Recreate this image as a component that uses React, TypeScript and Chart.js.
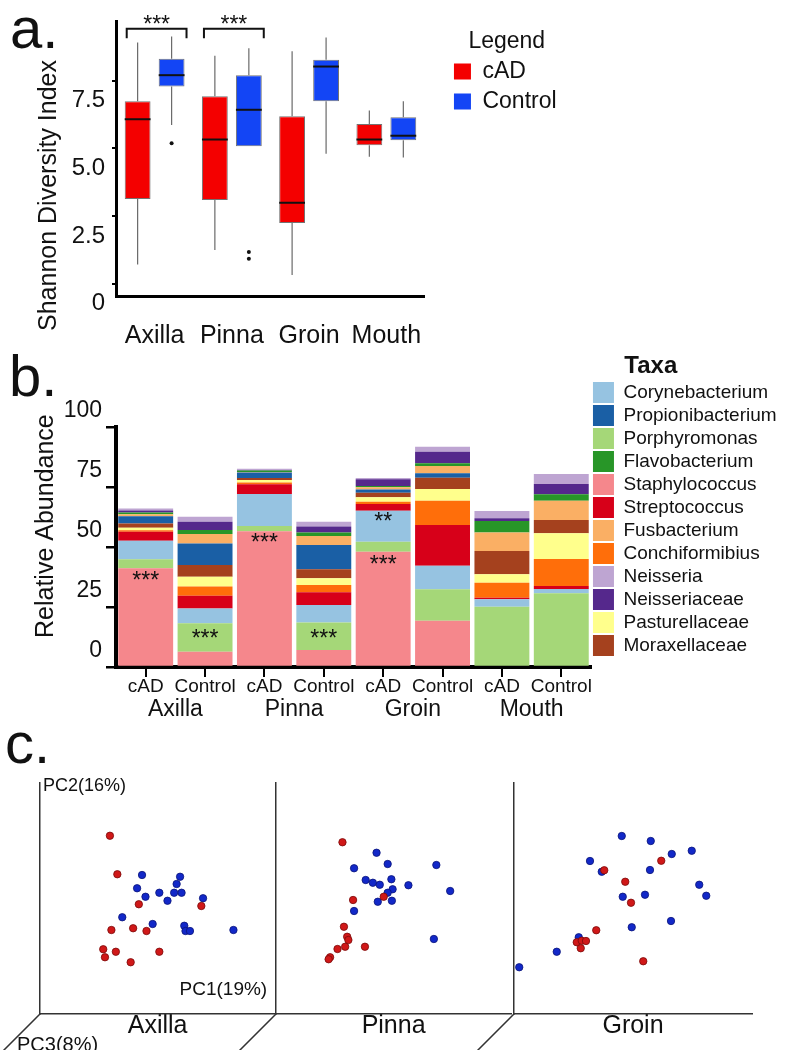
import React, { useEffect, useRef } from 'react';
import { Chart, registerables } from 'chart.js';

Chart.register(...registerables);

const FONT = '"Liberation Sans", Arial, Helvetica, sans-serif';
Chart.defaults.font.family = FONT;
Chart.defaults.color = '#111';

// ---------------- Panel a: Shannon diversity (box plots) ----------------
const SITES = ['Axilla', 'Pinna', 'Groin', 'Mouth'];
const GROUPS = ['cAD', 'Control'];
const GROUP_COLORS = ['#f40000', '#1345f5'];

const CAD_MIN = [0.71, 1.24, 0.32, 4.69];
const CAD_Q1 = [3.13, 3.09, 2.24, 5.12];
const CAD_MEDIAN = [6.08, 5.33, 2.99, 5.33];
const CAD_Q3 = [6.75, 6.93, 6.19, 5.9];
const CAD_MAX = [8.92, 8.43, 8.6, 6.4];
const CAD_OUTLIERS: number[][] = [[], [], [], []];

const CTRL_MIN = [5.87, 5.08, 4.8, 4.66];
const CTRL_Q1 = [7.29, 5.08, 6.75, 5.3];
const CTRL_MEDIAN = [7.71, 6.43, 8.03, 5.47];
const CTRL_Q3 = [8.32, 7.71, 8.28, 6.15];
const CTRL_MAX = [9.14, 8.71, 9.1, 6.75];
const CTRL_OUTLIERS: number[][] = [[5.19], [1.17, 0.92], [], []];

const SHANNON_TICKS = [0, 2.5, 5, 7.5];
const SHANNON_TICK_LABELS = ['0', '2.5', '5.0', '7.5'];
const SHANNON_SIGNIFICANCE = [
  { site: 'Axilla', label: '***' },
  { site: 'Pinna', label: '***' },
];
const BRACKET_TOP = 9.43;
const BRACKET_LEG = 9.08;
const BRACKET_STARS = 9.78;

// ---------------- Panel b: relative abundance (stacked bars) ----------------
const BAR_GROUPS = ['cAD', 'Control', 'cAD', 'Control', 'cAD', 'Control', 'cAD', 'Control'];
const BAR_SITES = ['Axilla', 'Pinna', 'Groin', 'Mouth'];

const STAPHYLOCOCCUS = [41.1, 6.4, 56.6, 7.1, 48.0, 19.3, 0, 0];
const PORPHYROMONAS = [3.8, 11.8, 2.2, 11.4, 4.2, 13.1, 25.1, 30.7];
const CORYNEBACTERIUM = [7.7, 6.2, 13.3, 7.3, 12.9, 9.8, 3.1, 1.8];
const STREPTOCOCCUS = [3.8, 5.3, 4.0, 5.3, 2.8, 17.0, 0.7, 1.3];
const CONCHIFORMIBIUS = [0.6, 3.8, 0.8, 3.1, 1.0, 10.1, 6.2, 11.2];
const PASTURELLACEAE = [1.0, 4.1, 1.0, 2.8, 1.8, 4.9, 3.5, 10.7];
const MORAXELLACEAE = [1.8, 4.9, 0.8, 3.7, 1.9, 4.7, 9.7, 5.6];
const PROPIONIBACTERIUM = [3.0, 9.0, 2.3, 10.1, 1.4, 1.8, 0, 0];
const FUSBACTERIUM = [0.8, 3.9, 0.3, 3.8, 0.9, 3.0, 7.7, 8.0];
const FLAVOBACTERIUM = [0.8, 1.7, 0.6, 1.4, 0.5, 1.2, 4.8, 2.7];
const NEISSERIACEAE = [0.8, 3.4, 0.2, 2.5, 2.8, 4.8, 1.2, 4.3];
const NEISSERIA = [0.8, 2.1, 0.5, 2.0, 0.6, 2.1, 3.0, 4.1];

// bottom-to-top stacking order
const TAXA_STACK = [
  { label: 'Staphylococcus', color: '#f5878c', data: STAPHYLOCOCCUS },
  { label: 'Porphyromonas', color: '#a5d778', data: PORPHYROMONAS },
  { label: 'Corynebacterium', color: '#96c3e1', data: CORYNEBACTERIUM },
  { label: 'Streptococcus', color: '#d70019', data: STREPTOCOCCUS },
  { label: 'Conchiformibius', color: '#ff6e0a', data: CONCHIFORMIBIUS },
  { label: 'Pasturellaceae', color: '#ffff8c', data: PASTURELLACEAE },
  { label: 'Moraxellaceae', color: '#a5411e', data: MORAXELLACEAE },
  { label: 'Propionibacterium', color: '#1a5fa5', data: PROPIONIBACTERIUM },
  { label: 'Fusbacterium', color: '#faaf64', data: FUSBACTERIUM },
  { label: 'Flavobacterium', color: '#289628', data: FLAVOBACTERIUM },
  { label: 'Neisseriaceae', color: '#55288c', data: NEISSERIACEAE },
  { label: 'Neisseria', color: '#bea5d2', data: NEISSERIA },
];
const LEGEND_ORDER = [
  'Corynebacterium', 'Propionibacterium', 'Porphyromonas', 'Flavobacterium',
  'Staphylococcus', 'Streptococcus', 'Fusbacterium', 'Conchiformibius',
  'Neisseria', 'Neisseriaceae', 'Pasturellaceae', 'Moraxellaceae',
];
const ABUNDANCE_TICKS = [0, 25, 50, 75, 100];
const ABUNDANCE_STARS = [
  { bar: 0, value: 38.3, label: '***' },
  { bar: 1, value: 14.2, label: '***' },
  { bar: 2, value: 54.2, label: '***' },
  { bar: 3, value: 14.2, label: '***' },
  { bar: 4, value: 62.9, label: '**' },
  { bar: 4, value: 45.0, label: '***' },
];

// ---------------- Panel c: PCoA (PC1 vs PC2 scores) ----------------
type Pt = [number, number];
const PC_LABELS = ['PC1(19%)', 'PC2(16%)', 'PC3(8%)'];
const AXILLA_CAD: Pt[] = [[-0.193, 0.251], [-0.163, 0.097], [-0.076, -0.023], [0.177, -0.03], [-0.187, -0.126], [-0.099, -0.119], [-0.045, -0.13], [-0.22, -0.203], [-0.169, -0.213], [-0.213, -0.235], [-0.109, -0.255], [0.007, -0.213]];
const AXILLA_CONTROL: Pt[] = [[-0.063, 0.094], [0.091, 0.087], [0.077, 0.058], [-0.083, 0.041], [-0.049, 0.007], [0.007, 0.023], [0.067, 0.023], [0.097, 0.023], [0.04, -0.009], [0.184, 0.001], [-0.143, -0.075], [-0.02, -0.102], [0.108, -0.109], [0.113, -0.13], [0.131, -0.13], [0.307, -0.126]];
const PINNA_CAD: Pt[] = [[-0.207, 0.225], [-0.164, -0.006], [-0.04, 0.007], [-0.201, -0.113], [-0.188, -0.153], [-0.183, -0.166], [-0.196, -0.193], [-0.116, -0.193], [-0.227, -0.202], [-0.257, -0.235], [-0.263, -0.243]];
const PINNA_CONTROL: Pt[] = [[-0.069, 0.183], [-0.024, 0.138], [0.173, 0.134], [-0.16, 0.121], [-0.113, 0.074], [-0.084, 0.063], [-0.056, 0.055], [-0.009, 0.077], [0.06, 0.053], [-0.004, 0.037], [-0.024, 0.023], [0.229, 0.03], [-0.064, -0.013], [-0.007, -0.009], [-0.16, -0.05], [0.163, -0.162]];
const GROIN_CAD: Pt[] = [[-0.115, 0.113], [0.113, 0.151], [-0.031, 0.067], [-0.008, -0.017], [-0.147, -0.127], [-0.225, -0.175], [-0.205, -0.169], [-0.188, -0.17], [-0.209, -0.199], [0.041, -0.251]];
const GROIN_CONTROL: Pt[] = [[-0.455, -0.275], [-0.305, -0.213], [-0.217, -0.155], [-0.172, 0.15], [-0.125, 0.107], [-0.045, 0.25], [0.071, 0.23], [0.155, 0.178], [0.235, 0.191], [0.068, 0.114], [0.265, 0.055], [0.293, 0.011], [-0.041, 0.007], [0.048, 0.015], [0.152, -0.09], [-0.005, -0.115]];
const PC_X_RANGE = [-0.476, 0.476];
const PC_Y_RANGE = [-0.462, 0.462];

// ---------------- helpers ----------------
function drawStars(ctx: CanvasRenderingContext2D, text: string, x: number, cy: number, size: number) {
  ctx.save();
  ctx.font = `${size}px ${FONT}`;
  ctx.fillStyle = '#111';
  ctx.textAlign = 'center';
  ctx.textBaseline = 'alphabetic';
  ctx.fillText(text, x, cy + size * 0.57);
  ctx.restore();
}

function drawRotatedTitle(ctx: CanvasRenderingContext2D, text: string, x: number, y: number, size: number) {
  ctx.save();
  ctx.translate(x, y);
  ctx.rotate(-Math.PI / 2);
  ctx.font = `${size}px ${FONT}`;
  ctx.fillStyle = '#111';
  ctx.textAlign = 'left';
  ctx.textBaseline = 'middle';
  ctx.fillText(text, 0, 0);
  ctx.restore();
}

const noBorderLegendLabels = (chart: any) =>
  Chart.defaults.plugins.legend.labels.generateLabels(chart).map((l: any) => ({ ...l, lineWidth: 0 }));

// invisible axis used only to reserve a fixed gap in the layout
function spacerAxis(position: string, size: number, display: boolean) {
  return {
    type: 'linear',
    position,
    display,
    grid: { display: false, drawTicks: false },
    ticks: { display: false },
    border: { display: false },
    afterFit: (s: any) => {
      if (position === 'left' || position === 'right') s.width = size;
      else s.height = size;
    },
  };
}

// ---------------- chart configs ----------------
function configA(): any {
  const stats = [
    { min: CAD_MIN, q1: CAD_Q1, med: CAD_MEDIAN, q3: CAD_Q3, max: CAD_MAX, out: CAD_OUTLIERS },
    { min: CTRL_MIN, q1: CTRL_Q1, med: CTRL_MEDIAN, q3: CTRL_Q3, max: CTRL_MAX, out: CTRL_OUTLIERS },
  ];
  const plugin = {
    id: 'boxDetails',
    afterDatasetsDraw(chart: any) {
      const { ctx, chartArea } = chart;
      const y = chart.scales.y;
      ctx.save();
      stats.forEach((s, di) => {
        const meta = chart.getDatasetMeta(di);
        meta.data.forEach((bar: any, i: number) => {
          const x = bar.x;
          const half = bar.width / 2;
          ctx.strokeStyle = '#6a6a6a';
          ctx.lineWidth = 1.2;
          ctx.beginPath();
          ctx.moveTo(x, y.getPixelForValue(s.q3[i]));
          ctx.lineTo(x, y.getPixelForValue(s.max[i]));
          ctx.moveTo(x, y.getPixelForValue(s.q1[i]));
          ctx.lineTo(x, y.getPixelForValue(s.min[i]));
          ctx.stroke();
          const my = y.getPixelForValue(s.med[i]);
          ctx.strokeStyle = '#111';
          ctx.lineWidth = 2;
          ctx.beginPath();
          ctx.moveTo(x - half, my);
          ctx.lineTo(x + half, my);
          ctx.stroke();
          ctx.fillStyle = '#111';
          s.out[i].forEach((v) => {
            ctx.beginPath();
            ctx.arc(x, y.getPixelForValue(v), 2, 0, Math.PI * 2);
            ctx.fill();
          });
        });
      });
      const m0 = chart.getDatasetMeta(0);
      const m1 = chart.getDatasetMeta(1);
      SHANNON_SIGNIFICANCE.forEach((sig) => {
        const i = SITES.indexOf(sig.site);
        const b0: any = m0.data[i];
        const b1: any = m1.data[i];
        const x1 = b0.x - b0.width / 2 + 2;
        const x2 = b1.x + b1.width / 2 + 2;
        const yt = y.getPixelForValue(BRACKET_TOP);
        const yl = y.getPixelForValue(BRACKET_LEG);
        ctx.strokeStyle = '#111';
        ctx.lineWidth = 2;
        ctx.beginPath();
        ctx.moveTo(x1, yl);
        ctx.lineTo(x1, yt);
        ctx.lineTo(x2, yt);
        ctx.lineTo(x2, yl);
        ctx.stroke();
        drawStars(ctx, sig.label, (x1 + x2) / 2, y.getPixelForValue(BRACKET_STARS), 23);
      });
      drawRotatedTitle(ctx, 'Shannon Diversity Index', chartArea.left - 67, chartArea.bottom + 35, 25);
      ctx.restore();
    },
  };
  return {
    type: 'bar',
    data: {
      labels: SITES,
      datasets: GROUPS.map((g, gi) => {
        const q1 = gi === 0 ? CAD_Q1 : CTRL_Q1;
        const q3 = gi === 0 ? CAD_Q3 : CTRL_Q3;
        return {
          label: g,
          data: q1.map((v, i) => [v, q3[i]]),
          xAxisID: 'x',
          yAxisID: 'y',
          backgroundColor: GROUP_COLORS[gi],
          borderColor: 'rgba(0,0,0,0.55)',
          borderWidth: 1,
          borderSkipped: false,
          categoryPercentage: 0.88,
          barPercentage: 0.76,
        };
      }),
    },
    options: {
      responsive: false,
      animation: false,
      events: [],
      layout: { padding: { top: 10, left: 0, right: 33.4, bottom: 0 } },
      scales: {
        x: {
          type: 'category',
          grid: { display: false, drawTicks: false },
          border: { display: true, color: '#000', width: 3 },
          ticks: { font: { size: 25, lineHeight: 1 }, color: '#111', padding: 28, maxRotation: 0, minRotation: 0, autoSkip: false },
          afterFit: (s: any) => { s.height = 59; },
        },
        y: {
          type: 'linear',
          min: -0.46,
          max: 9.7,
          grid: { display: true, drawOnChartArea: false, drawTicks: true, tickLength: 4, lineWidth: 2, color: '#000' },
          border: { display: true, color: '#000', width: 3 },
          afterBuildTicks: (s: any) => { s.ticks = SHANNON_TICKS.map((v) => ({ value: v })); },
          ticks: {
            font: { size: 24 },
            color: '#111',
            padding: 7,
            labelOffset: 20,
            callback: (v: any) => SHANNON_TICK_LABELS[SHANNON_TICKS.indexOf(Number(v))],
          },
          afterFit: (s: any) => { s.width = 116; },
        },
        spacer: spacerAxis('right', 22, false),
      },
      plugins: {
        tooltip: { enabled: false },
        legend: {
          display: true,
          position: 'right',
          align: 'start',
          title: {
            display: true,
            text: 'Legend',
            position: 'center',
            color: '#111',
            font: { size: 23, lineHeight: 1 },
            padding: { top: 20, bottom: 0 },
          },
          labels: {
            boxWidth: 17,
            boxHeight: 16,
            padding: 7,
            color: '#111',
            font: { size: 23 },
            generateLabels: noBorderLegendLabels,
          },
        },
      },
    },
    plugins: [plugin],
  };
}

function configB(): any {
  const plugin = {
    id: 'abundanceNotes',
    afterDatasetsDraw(chart: any) {
      const { ctx, chartArea } = chart;
      const x = chart.scales.x;
      const y = chart.scales.y;
      ABUNDANCE_STARS.forEach((s) => {
        drawStars(ctx, s.label, x.getPixelForValue(s.bar), y.getPixelForValue(s.value), 23);
      });
      drawRotatedTitle(ctx, 'Relative Abundance', chartArea.left - 69.5, chartArea.bottom - 29, 25);
    },
  };
  return {
    type: 'bar',
    data: {
      labels: BAR_GROUPS,
      datasets: TAXA_STACK.map((t) => ({
        label: t.label,
        data: t.data,
        xAxisID: 'x',
        yAxisID: 'y',
        backgroundColor: t.color,
        borderWidth: 0,
        categoryPercentage: 1,
        barPercentage: 0.925,
      })),
    },
    options: {
      responsive: false,
      animation: false,
      events: [],
      layout: { padding: { top: 0, left: 0, right: 4.4, bottom: 0 } },
      scales: {
        x: {
          type: 'category',
          stacked: true,
          grid: { display: true, drawOnChartArea: false, drawTicks: true, tickLength: 10, lineWidth: 2, color: '#000', offset: false },
          border: { display: true, color: '#000', width: 4 },
          ticks: { font: { size: 19, lineHeight: 1 }, color: '#111', padding: 0, maxRotation: 0, autoSkip: false },
          afterFit: (s: any) => { s.height = 30; },
        },
        x2: {
          type: 'category',
          position: 'bottom',
          labels: BAR_SITES,
          offset: true,
          grid: { display: false, drawTicks: false },
          border: { display: false },
          ticks: { font: { size: 23, lineHeight: 1 }, color: '#111', padding: 1, maxRotation: 0, autoSkip: false },
          afterFit: (s: any) => { s.height = 33; },
        },
        y: {
          type: 'linear',
          stacked: true,
          min: 0,
          max: 100,
          grid: { display: true, drawOnChartArea: false, drawTicks: true, tickLength: 10, lineWidth: 2.5, color: '#000' },
          border: { display: true, color: '#000', width: 4 },
          afterBuildTicks: (s: any) => { s.ticks = ABUNDANCE_TICKS.map((v) => ({ value: v })); },
          ticks: { font: { size: 23 }, color: '#111', padding: 4, labelOffset: -16 },
          afterFit: (s: any) => { s.width = 116; },
        },
        topSpacer: spacerAxis('top', 87, true),
      },
      plugins: {
        tooltip: { enabled: false },
        legend: {
          display: true,
          position: 'right',
          align: 'start',
          title: {
            display: true,
            text: '     Taxa',
            position: 'start',
            color: '#111',
            font: { size: 24, weight: 'bold', lineHeight: 1 },
            padding: { top: 14.5, bottom: 1.5 },
          },
          labels: {
            boxWidth: 21,
            boxHeight: 21,
            padding: 2,
            color: '#111',
            font: { size: 19 },
            sort: (a: any, b: any) => LEGEND_ORDER.indexOf(a.text) - LEGEND_ORDER.indexOf(b.text),
            generateLabels: noBorderLegendLabels,
          },
        },
      },
    },
    plugins: [plugin],
  };
}

function configC(site: string, cad: Pt[], ctrl: Pt[], padRight: number, axisLabels: boolean): any {
  const plugin = {
    id: 'pcoaFrame',
    afterDraw(chart: any) {
      const { ctx, chartArea: a } = chart;
      ctx.save();
      ctx.strokeStyle = '#333';
      ctx.lineWidth = 1.5;
      ctx.beginPath();
      ctx.moveTo(a.left, a.bottom);
      ctx.lineTo(a.left - 45, a.bottom + 45);
      ctx.stroke();
      if (axisLabels) {
        ctx.fillStyle = '#111';
        ctx.textBaseline = 'alphabetic';
        ctx.font = `18px ${FONT}`;
        ctx.textAlign = 'left';
        ctx.fillText(PC_LABELS[1], a.left + 3, a.top + 8);
        ctx.font = `19px ${FONT}`;
        ctx.textAlign = 'right';
        ctx.fillText(PC_LABELS[0], a.right - 8, a.bottom - 19);
        ctx.font = `20px ${FONT}`;
        ctx.textAlign = 'left';
        ctx.fillText(PC_LABELS[2], a.left - 23, a.bottom + 37);
      }
      ctx.restore();
    },
  };
  const toXY = (p: Pt) => ({ x: p[0], y: p[1] });
  return {
    type: 'scatter',
    data: {
      datasets: [
        { label: 'cAD', data: cad.map(toXY), backgroundColor: '#d01818', borderColor: '#7a0a0a', borderWidth: 0.8, pointRadius: 3.7, clip: false },
        { label: 'Control', data: ctrl.map(toXY), backgroundColor: '#1228c8', borderColor: '#0a1478', borderWidth: 0.8, pointRadius: 3.7, clip: false },
      ],
    },
    options: {
      responsive: false,
      animation: false,
      events: [],
      layout: { padding: { top: 63, left: 40, right: padRight, bottom: 0 } },
      scales: {
        x: {
          type: 'linear',
          min: PC_X_RANGE[0],
          max: PC_X_RANGE[1],
          grid: { display: false, drawTicks: false },
          ticks: { display: false },
          border: { display: true, color: '#333', width: 1.5 },
          title: { display: true, text: site, color: '#111', font: { size: 25 }, padding: { top: 0, bottom: 9 } },
          afterFit: (s: any) => { s.height = 36; },
        },
        y: {
          type: 'linear',
          min: PC_Y_RANGE[0],
          max: PC_Y_RANGE[1],
          grid: { display: false, drawTicks: false },
          ticks: { display: false },
          border: { display: true, color: '#333', width: 1.5 },
          afterFit: (s: any) => { s.width = 0; },
        },
      },
      plugins: { legend: { display: false }, tooltip: { enabled: false } },
    },
    plugins: [plugin],
  };
}

// ---------------- components ----------------
function ChartCanvas({ make, left, top, width, height }: { make: () => any; left: number; top: number; width: number; height: number }) {
  const ref = useRef<HTMLCanvasElement>(null);
  useEffect(() => {
    const chart = new Chart(ref.current as HTMLCanvasElement, make());
    return () => chart.destroy();
  }, []);
  return (
    <canvas
      ref={ref}
      width={width}
      height={height}
      style={{ position: 'absolute', left, top, width, height, display: 'block' }}
    />
  );
}

function PanelLetter({ text, left, top }: { text: string; left: number; top: number }) {
  return (
    <div style={{ position: 'absolute', left, top, fontSize: 58, lineHeight: 1, fontFamily: FONT, color: '#111', zIndex: 5 }}>
      {text}
    </div>
  );
}

export default function App() {
  return (
    <div style={{ position: 'absolute', left: 0, top: 0, width: 791, height: 1050, overflow: 'hidden', background: '#fff' }}>
      <ChartCanvas make={configA} left={0} top={0} width={600} height={355} />
      <ChartCanvas make={configB} left={0} top={340} width={791} height={390} />
      <ChartCanvas make={() => configC('Axilla', AXILLA_CAD, AXILLA_CONTROL, 2, true)} left={0} top={720} width={280} height={330} />
      <ChartCanvas make={() => configC('Pinna', PINNA_CAD, PINNA_CONTROL, 2, false)} left={236} top={720} width={280} height={330} />
      <ChartCanvas make={() => configC('Groin', GROIN_CAD, GROIN_CONTROL, 39, false)} left={474} top={720} width={317} height={330} />
      <PanelLetter text="a." left={10} top={-1} />
      <PanelLetter text="b." left={9} top={347} />
      <PanelLetter text="c." left={5} top={714} />
    </div>
  );
}
